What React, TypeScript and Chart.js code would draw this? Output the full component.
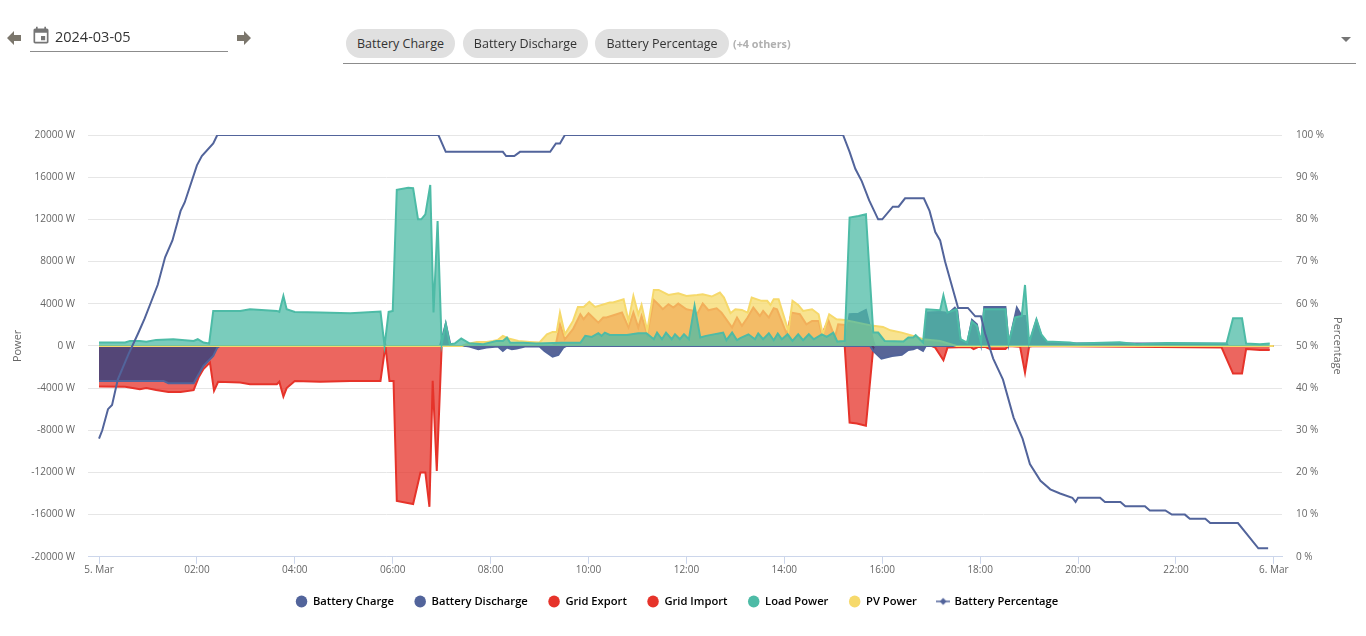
import React, { useEffect, useRef } from 'react';
import Chart from 'chart.js/auto';

// times are minutes after midnight on 5 Mar
const chargeTimes = [0, 79, 85, 116, 128, 140, 145, 148, 450, 454, 465, 475, 489, 495, 500, 506, 512, 522, 540, 546, 556, 563, 569, 573, 945, 949, 959, 972, 984, 992, 998, 1003, 1010, 1013, 1014, 1440];
const chargeValues = [-3320, -3320, -3540, -3540, -1900, -950, -160, 0, 0, -60, -320, -160, -60, -470, -160, -320, -250, -60, -60, -470, -1010, -850, -160, 0, 0, -470, -1200, -950, -850, -380, -320, -160, -470, -60, 0, 0];

const dischargeTimes = [0, 418, 425, 431, 914, 920, 931, 940, 949, 951, 1012, 1014, 1031, 1037, 1040, 1049, 1052, 1056, 1064, 1070, 1076, 1081, 1085, 1111, 1115, 1125, 1131, 1135, 1140, 1149, 1155, 1162, 1190, 1382, 1384, 1440];
const dischargeValues = [0, 0, 2100, 0, 0, 3000, 3060, 3410, 470, 0, 0, 3160, 3220, 3160, 3000, 3630, 3320, 470, 160, 2460, 2050, 160, 3700, 3700, 160, 3630, 2840, 2840, 160, 2430, 950, 320, 250, 200, 0, 0];

const exportTimes = [0, 555, 560, 565, 571, 581, 590, 594, 600, 612, 618, 622, 641, 649, 655, 661, 665, 672, 680, 686, 691, 698, 704, 710, 720, 729, 733, 740, 747, 757, 763, 776, 782, 788, 795, 802, 810, 814, 821, 827, 831, 843, 849, 859, 867, 874, 882, 886, 894, 902, 906, 914, 916, 1440];
const exportValues = [0, 0, 160, 2050, 630, 1580, 3000, 2530, 3100, 2200, 2690, 2690, 3160, 1740, 3160, 1740, 2840, 1100, 4360, 3900, 3480, 3950, 3630, 4010, 3480, 3320, 3000, 4010, 3380, 3570, 3160, 1740, 2690, 1900, 2690, 3630, 2840, 3320, 2690, 3570, 3480, 1100, 3160, 3000, 2050, 2370, 2370, 1100, 2430, 790, 2050, 1990, 0, 0];

const importTimes = [0, 32, 50, 58, 70, 85, 100, 116, 122, 128, 136, 141, 146, 173, 185, 218, 221, 226, 230, 240, 271, 308, 345, 351, 356, 361, 365, 385, 394, 400, 405, 409, 414, 420, 914, 920, 929, 940, 949, 951, 1020, 1025, 1035, 1040, 1068, 1072, 1078, 1086, 1092, 1111, 1115, 1129, 1135, 1140, 1145, 1376, 1390, 1401, 1406, 1423, 1435];
const importValues = [-3850, -3870, -4100, -4000, -4180, -4360, -4360, -4200, -3000, -2200, -1580, -4260, -3400, -3480, -3630, -3630, -3400, -4800, -4000, -3320, -3400, -3320, -3320, 0, -3320, -3320, -14700, -15000, -12000, -12000, -15260, -3300, -11850, 0, 0, -7270, -7360, -7580, -160, 0, 0, -160, -1360, -160, -100, -300, -100, -100, -300, -300, 0, -80, -2530, -80, 0, -150, -2620, -2620, -300, -380, -400];

const loadTimes = [0, 32, 38, 50, 58, 70, 91, 116, 121, 128, 135, 140, 173, 185, 218, 221, 226, 230, 240, 271, 308, 345, 350, 355, 360, 365, 379, 385, 391, 395, 400, 406, 410, 415, 420, 425, 430, 436, 444, 454, 471, 487, 495, 500, 504, 520, 536, 567, 590, 596, 604, 612, 616, 620, 626, 647, 661, 671, 680, 684, 690, 695, 702, 706, 712, 717, 723, 730, 737, 744, 765, 769, 776, 782, 786, 796, 804, 808, 814, 821, 827, 832, 837, 844, 850, 857, 863, 870, 876, 886, 892, 900, 905, 914, 920, 931, 940, 949, 955, 963, 986, 992, 998, 1001, 1010, 1014, 1031, 1035, 1040, 1051, 1056, 1064, 1070, 1076, 1081, 1085, 1111, 1115, 1123, 1131, 1135, 1140, 1149, 1155, 1162, 1190, 1198, 1251, 1272, 1309, 1382, 1390, 1401, 1406, 1423, 1435];
const loadValues = [316, 316, 474, 474, 400, 570, 632, 474, 632, 316, 220, 3318, 3318, 3476, 3318, 3223, 4740, 3476, 3223, 3160, 3097, 3255, 0, 3223, 3318, 14800, 15000, 14950, 12000, 12000, 12480, 15260, 3160, 11850, 160, 2100, 160, 220, 700, 250, 160, 470, 470, 800, 300, 300, 220, 300, 300, 950, 850, 1200, 950, 1260, 1040, 1040, 1200, 1200, 630, 1260, 630, 1260, 630, 1100, 630, 1100, 630, 3800, 790, 950, 1260, 540, 1260, 540, 730, 1100, 630, 1170, 630, 1200, 540, 1170, 630, 1100, 470, 1100, 540, 1100, 630, 1100, 850, 1260, 410, 470, 12170, 12320, 12480, 1260, 1260, 470, 410, 790, 790, 1010, 320, 3480, 3380, 4800, 3160, 3480, 630, 320, 2300, 1900, 320, 3480, 3480, 320, 2700, 2840, 5780, 320, 2530, 1100, 410, 320, 220, 350, 160, 280, 220, 2620, 2620, 220, 160, 220];

const pvTimes = [0, 445, 450, 463, 475, 483, 489, 495, 502, 514, 528, 540, 549, 556, 561, 565, 571, 581, 587, 594, 601, 608, 626, 630, 643, 649, 655, 661, 665, 672, 680, 686, 698, 710, 720, 733, 740, 751, 761, 766, 774, 780, 788, 795, 800, 812, 819, 823, 827, 833, 845, 850, 857, 863, 874, 882, 887, 895, 904, 914, 949, 961, 970, 984, 998, 1010, 1031, 1051, 1440];
const pvValues = [0, 0, 160, 380, 380, 470, 570, 950, 700, 470, 380, 320, 1100, 1330, 1330, 3160, 1100, 2370, 3700, 3700, 4170, 3700, 4110, 4110, 4420, 2370, 4740, 3000, 3890, 1420, 5310, 5310, 4830, 4990, 4740, 4830, 4900, 4680, 5060, 4580, 3100, 3480, 3410, 3160, 4580, 4270, 4270, 3890, 4420, 4420, 1420, 4270, 3890, 3320, 3480, 3000, 1100, 3000, 2530, 2460, 1900, 1800, 1480, 1260, 950, 630, 470, 0, 0];

const percentTimes = [0, 4, 11, 16, 23, 36, 48, 56, 65, 72, 81, 90, 100, 105, 120, 126, 140, 145, 416, 425, 495, 499, 509, 516, 553, 560, 565, 571, 912, 920, 927, 935, 944, 955, 960, 973, 980, 988, 1011, 1018, 1025, 1031, 1037, 1053, 1065, 1074, 1081, 1086, 1096, 1108, 1121, 1132, 1141, 1154, 1166, 1178, 1193, 1197, 1200, 1227, 1233, 1252, 1258, 1282, 1288, 1307, 1315, 1331, 1337, 1356, 1362, 1396, 1421, 1433];
const percentValues = [28, 30, 35, 36, 42, 48, 53, 56.5, 61, 64.5, 71, 75, 82, 84, 92.8, 95, 98, 100, 100, 96, 96, 95, 95, 96, 96, 98, 98, 100, 100, 96, 92, 89, 84.5, 80, 80, 83, 83, 85, 85, 82, 77, 75, 70, 59, 59, 57, 57, 53, 47, 42, 33, 28, 22, 18, 16, 15, 14, 13, 14, 14, 13, 13, 12, 12, 11, 11, 10, 10, 9, 9, 8, 8, 2, 2];

const xTicks = [0, 120, 240, 360, 480, 600, 720, 840, 960, 1080, 1200, 1320, 1440];

const BLUE = '#52649b';
const RED = '#e6332a';
const GREEN = '#4dbba6';
const YELLOW = '#f6d96b';

const zip = (times: number[], values: number[]) => times.map((t, i) => ({ x: t, y: values[i] }));

const xLabel = (v: number) => {
    if (v === 0) return '5. Mar';
    if (v === 1440) return '6. Mar';
    return String(v / 60).padStart(2, '0') + ':00';
};

const area = (label: string, times: number[], values: number[], line: string, fill: string, order: number) => ({
    label,
    data: zip(times, values),
    borderColor: line,
    backgroundColor: fill,
    borderWidth: 2,
    pointRadius: 0,
    tension: 0,
    fill: 'origin',
    yAxisID: 'y',
    order,
    legendColor: line,
});

function percentMarker() {
    const c = document.createElement('canvas');
    c.width = 14;
    c.height = 10;
    const g = c.getContext('2d');
    if (g) {
        g.strokeStyle = BLUE;
        g.fillStyle = BLUE;
        g.lineWidth = 1.5;
        g.beginPath();
        g.moveTo(0, 5);
        g.lineTo(14, 5);
        g.stroke();
        g.beginPath();
        g.moveTo(7, 1.5);
        g.lineTo(10.5, 5);
        g.lineTo(7, 8.5);
        g.lineTo(3.5, 5);
        g.closePath();
        g.fill();
    }
    return c;
}

// the legend sits a little left of the canvas centre in the original
const legendShift = {
    id: 'legendShift',
    afterLayout(chart: any) {
        chart.legend.left -= 6;
        chart.legend.right -= 6;
    },
};

const chipStyle: React.CSSProperties = {
    position: 'absolute',
    top: 29,
    height: 29,
    lineHeight: '29px',
    background: '#e0e0e0',
    borderRadius: 15,
    textAlign: 'center',
    fontSize: 12.5,
    color: '#333',
};

function Arrow({ x, flip }: { x: number; flip?: boolean }) {
    return (
        <svg width={16} height={16} viewBox="0 0 16 16" style={{ position: 'absolute', left: x, top: 30, transform: flip ? 'scaleX(-1)' : undefined }}>
            <path d="M8 1 L1 8 L8 15 L8 11 L15 11 L15 5 L8 5 Z" fill="#7b766c" />
        </svg>
    );
}

export default function App() {
    const chartRef = useRef<HTMLCanvasElement | null>(null);

    useEffect(() => {
        if (!chartRef.current) return;
        const marker = percentMarker();
        const chart = new Chart(chartRef.current, {
            type: 'line',
            plugins: [legendShift],
            data: {
                datasets: [
                    area('Battery Charge', chargeTimes, chargeValues, BLUE, 'rgba(46,62,125,0.8)', 5),
                    area('Battery Discharge', dischargeTimes, dischargeValues, BLUE, 'rgba(46,62,125,0.8)', 4),
                    area('Grid Export', exportTimes, exportValues, RED, 'rgba(230,51,42,0.75)', 7),
                    area('Grid Import', importTimes, importValues, RED, 'rgba(230,51,42,0.75)', 6),
                    area('Load Power', loadTimes, loadValues, GREEN, 'rgba(77,187,166,0.75)', 2),
                    area('PV Power', pvTimes, pvValues, YELLOW, 'rgba(246,217,107,0.75)', 3),
                    {
                        label: 'Battery Percentage',
                        data: zip(percentTimes, percentValues),
                        borderColor: BLUE,
                        backgroundColor: BLUE,
                        borderWidth: 2,
                        pointRadius: 0,
                        tension: 0,
                        fill: false,
                        yAxisID: 'y1',
                        order: 1,
                    },
                ] as any,
            },
            options: {
                responsive: false,
                animation: false,
                parsing: false,
                normalized: true,
                layout: { padding: { top: 135, bottom: 19, left: 0, right: 0 } },
                plugins: {
                    tooltip: { enabled: false },
                    legend: {
                        position: 'bottom',
                        labels: {
                            usePointStyle: true,
                            pointStyleWidth: 11.5,
                            boxHeight: 8.5,
                            padding: 20.5,
                            font: { family: 'Open Sans', size: 11.2, weight: '600' },
                            color: '#333',
                            generateLabels: (c: Chart) =>
                                c.data.datasets.map((d: any, i: number) => ({
                                    text: d.label,
                                    fillStyle: d.legendColor || BLUE,
                                    strokeStyle: d.legendColor || BLUE,
                                    lineWidth: 0,
                                    pointStyle: d.legendColor ? 'circle' : marker,
                                    datasetIndex: i,
                                })),
                        },
                    },
                },
                scales: {
                    x: {
                        type: 'linear',
                        min: -13.5,
                        max: 1450,
                        afterBuildTicks: (s: any) => {
                            s.ticks = xTicks.map(v => ({ value: v }));
                        },
                        afterFit: (s: any) => {
                            s.height = 18.5;
                        },
                        ticks: {
                            autoSkip: false,
                            maxRotation: 0,
                            padding: 0,
                            color: '#666',
                            font: { family: 'Open Sans', size: 10 },
                            callback: (v: any) => xLabel(Number(v)),
                        },
                        grid: { drawOnChartArea: false, drawTicks: true, tickLength: 7, tickColor: '#ccd6eb' },
                        border: { color: '#ccd6eb' },
                    },
                    y: {
                        position: 'left',
                        min: -20000,
                        max: 20000,
                        afterFit: (s: any) => {
                            s.width = 88;
                        },
                        ticks: {
                            stepSize: 4000,
                            padding: 13,
                            color: '#666',
                            font: { family: 'Open Sans', size: 10 },
                            callback: (v: any) => v + ' W',
                        },
                        grid: { color: '#e6e6e6', drawTicks: false },
                        border: { display: false },
                        title: { display: true, text: 'Power', color: '#666', font: { family: 'Open Sans', size: 11 }, padding: { top: 11, bottom: 0 } },
                    },
                    y1: {
                        position: 'right',
                        min: 0,
                        max: 100,
                        afterFit: (s: any) => {
                            s.width = 84;
                        },
                        ticks: {
                            stepSize: 10,
                            padding: 14,
                            color: '#666',
                            font: { family: 'Open Sans', size: 10 },
                            callback: (v: any) => v + ' %',
                        },
                        grid: { drawOnChartArea: false, drawTicks: false },
                        border: { display: false },
                        title: { display: true, text: 'Percentage', color: '#666', font: { family: 'Open Sans', size: 11 }, padding: { top: 22, bottom: 0 } },
                    },
                },
            },
        } as any);
        return () => {
            chart.destroy();
        };
    }, []);

    return (
        <div style={{ position: 'absolute', left: 0, top: 0, width: 1366, height: 636, overflow: 'hidden', fontFamily: 'Open Sans', background: '#fff' }}>
            <canvas ref={chartRef} width={1366} height={636} style={{ display: 'block', position: 'absolute', left: 0, top: 0 }} />
            <Arrow x={6} />
            <svg width={20} height={20} viewBox="0 0 24 24" style={{ position: 'absolute', left: 31, top: 26 }}>
                <path fill="#757575" d="M17 12h-5v5h5v-5zM16 1v2H8V1H6v2H5c-1.1 0-2 .9-2 2v14c0 1.1.9 2 2 2h14c1.100 0 2-.9 2-2V5c0-1.100-.9-2-2-2h-1V1h-2zm3 18H5V8h14v11z" />
            </svg>
            <div style={{ position: 'absolute', left: 55, top: 27, fontSize: 14.5, color: '#333', lineHeight: '20px' }}>2024-03-05</div>
            <div style={{ position: 'absolute', left: 30, top: 51, width: 198, height: 1, background: '#8c8c8c' }} />
            <Arrow x={236} flip />
            <div style={{ ...chipStyle, left: 346, width: 109 }}>Battery Charge</div>
            <div style={{ ...chipStyle, left: 463, width: 125 }}>Battery Discharge</div>
            <div style={{ ...chipStyle, left: 595, width: 134 }}>Battery Percentage</div>
            <div style={{ position: 'absolute', left: 733, top: 37, fontSize: 10.8, fontWeight: 700, color: '#b0b0b0', lineHeight: '14px' }}>(+4 others)</div>
            <div style={{ position: 'absolute', left: 343, top: 63, width: 1013, height: 1, background: '#8c8c8c' }} />
            <svg width={10} height={5} style={{ position: 'absolute', left: 1341, top: 37 }}>
                <path d="M0 0 L10 0 L5 5 Z" fill="#757575" />
            </svg>
        </div>
    );
}
